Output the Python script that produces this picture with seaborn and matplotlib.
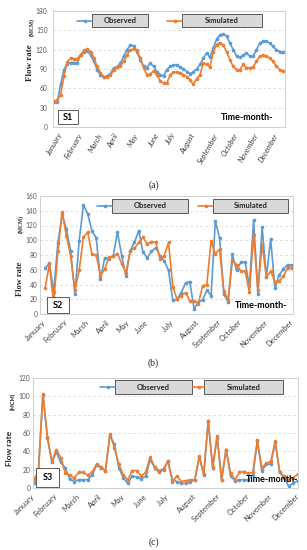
import numpy as np
import pandas as pd
import seaborn as sns
import matplotlib.pyplot as plt
from matplotlib.patches import Rectangle
from matplotlib.lines import Line2D

months = ["January", "February", "March", "April", "May", "June", "July",
          "August", "September", "October", "November", "December"]

# S1 (a)
s1_obs = [39, 39, 66, 89, 98, 100, 100, 100, 112, 117, 118, 112, 102, 89, 81, 77, 79, 83, 92, 93,
          99, 110, 120, 127, 126, 117, 104, 94, 92, 99, 94, 86, 81, 79, 89, 94, 96, 96, 93, 90,
          86, 83, 85, 90, 97, 107, 115, 108, 123, 136, 143, 144, 141, 130, 120, 110, 108, 111, 115, 110,
          110, 120, 130, 133, 133, 130, 125, 120, 117, 116]
s1_sim = [40, 42, 50, 79, 101, 107, 106, 106, 112, 119, 121, 117, 107, 94, 84, 78, 77, 81, 88, 93,
          94, 102, 112, 120, 121, 119, 107, 92, 81, 82, 87, 81, 72, 68, 68, 81, 85, 85, 84, 81,
          78, 73, 66, 75, 81, 99, 97, 93, 117, 128, 131, 127, 117, 104, 94, 89, 89, 97, 92, 92,
          93, 102, 110, 111, 110, 107, 102, 94, 89, 87]
s1_ticks = [2, 8, 14, 19, 25, 31, 36, 42, 49, 55, 61, 67]

# S2 (b)
s2_obs = [62, 69, 30, 96, 135, 115, 86, 27, 99, 148, 136, 113, 103, 47, 76, 75, 79, 111, 79, 51,
          86, 97, 113, 84, 76, 85, 90, 79, 72, 59, 19, 20, 29, 42, 44, 7, 16, 19, 32, 25,
          126, 103, 27, 16, 81, 59, 70, 70, 38, 127, 27, 118, 50, 102, 35, 53, 61, 67, 66]
s2_sim = [35, 68, 14, 85, 138, 106, 78, 32, 59, 104, 111, 81, 80, 52, 61, 77, 78, 82, 68, 56,
          86, 89, 97, 104, 95, 98, 97, 75, 79, 97, 37, 20, 25, 29, 18, 18, 14, 38, 40, 99,
          81, 88, 31, 19, 72, 67, 58, 58, 30, 107, 33, 95, 50, 58, 44, 45, 51, 63, 63]
s2_ticks = [0, 5, 10, 15, 19.5, 24, 30, 36, 41, 46, 52, 58]

# S3 (c)
s3_obs = [6, 19, 102, 55, 28, 39, 28, 22, 10, 7, 9, 9, 9, 14, 25, 22, 19, 57, 48, 22,
          11, 5, 13, 12, 10, 13, 31, 22, 17, 20, 29, 9, 7, 5, 5, 7, 9, 34, 14, 73,
          22, 55, 9, 42, 13, 8, 9, 9, 9, 14, 51, 19, 26, 26, 50, 17, 11, 2, 5, 8]
s3_sim = [9, 19, 103, 56, 29, 42, 33, 16, 14, 11, 17, 17, 14, 17, 26, 23, 19, 59, 44, 26,
          14, 9, 19, 19, 13, 17, 34, 23, 19, 21, 29, 7, 13, 7, 8, 9, 9, 35, 15, 73,
          23, 57, 9, 42, 16, 9, 17, 18, 16, 17, 52, 22, 27, 29, 51, 17, 13, 9, 11, 15]
s3_ticks = [0, 5, 10, 15, 20, 25, 30, 36, 41.5, 48, 53, 59]

BLUE = "#5b9bd5"
ORANGE = "#ed7d31"

sns.set_style("white")
plt.rcParams["font.family"] = ["Lato", "DejaVu Sans"]

W, H = 307, 550
fig = plt.figure(figsize=(W / 100, H / 100), dpi=100)


def fx(x):
    return x / W


def fy(y):
    return 1 - y / H


panels = [
    dict(name="S1", cap="(a)", obs=s1_obs, sim=s1_sim, ticks=s1_ticks, ymax=180, step=30,
         rect=(53, 11, 285, 127), xlim=(-0.3, 69.6), rot=60, italic=True, ypad=4,
         leg=(77, 92, 148, 167, 182, 262, 14, 27), sbox=(58, 110, 78, 124), tm=(273, 118),
         ylab=(30, 63, 32, 27.5, "serif", 6.5), capy=185),
    dict(name="S2", cap="(b)", obs=s2_obs, sim=s2_sim, ticks=s2_ticks, ymax=160, step=20,
         rect=(40, 196, 293, 314), xlim=(-1.2, 58.25), rot=45, italic=False, ypad=2,
         leg=(97, 112, 188, 198, 213, 288, 199, 213), sbox=(47, 297, 69, 313), tm=(287, 306),
         ylab=(20, 279, 21, 224, "serif", 6), capy=363),
    dict(name="S3", cap="(c)", obs=s3_obs, sim=s3_sim, ticks=s3_ticks, ymax=120, step=20,
         rect=(33, 378, 298, 488), xlim=(-0.22, 59.1), rot=45, italic=False, ypad=2,
         leg=(100, 115, 192, 193, 204, 283, 380, 394), sbox=(36, 468, 59, 487), tm=(298, 479),
         ylab=(10, 448, 13, 401, "sans", 6), capy=542),
]

for p in panels:
    l, t, r, b = p["rect"]
    ax = fig.add_axes([fx(l), fy(b), (r - l) / W, (b - t) / H])
    n = len(p["obs"])
    df = pd.DataFrame({"t": np.arange(n), "Observed": p["obs"], "Simulated": p["sim"]})
    df = df.melt(id_vars="t", var_name="series", value_name="flow")
    sns.lineplot(data=df, x="t", y="flow", hue="series", palette=[BLUE, ORANGE],
                 marker="o", markersize=2.6, markeredgewidth=0, linewidth=1.2,
                 legend=False, ax=ax)
    ax.set_ylim(0, p["ymax"])
    ax.set_xlim(*p["xlim"])
    ax.set_yticks(np.arange(0, p["ymax"] + 1, p["step"]))
    ax.yaxis.grid(True, linestyle=(0, (3, 3)), color="#d9d9d9", linewidth=0.6)
    ax.set_xticks(p["ticks"])
    ax.set_xticklabels(months, rotation=p["rot"], ha="right", va="center",
                       rotation_mode="anchor", fontsize=5.4, color="#404040",
                       style="italic" if p["italic"] else "normal")
    ax.tick_params(axis="x", length=0, pad=5)
    ax.tick_params(axis="y", length=0, pad=p["ypad"], labelsize=4.8, labelcolor="#595959")
    ax.set_xlabel("")
    ax.set_ylabel("")
    for s in ax.spines.values():
        s.set_color("#d0d0d0")
        s.set_linewidth(0.7)

    # legend boxes
    x1, x2, bx2, x3, x4, bx4, by1, by2 = p["leg"]
    ym = (by1 + by2) / 2
    for (a, c, e, col, lab) in [(x1, x2, bx2, BLUE, "Observed"), (x3, x4, bx4, ORANGE, "Simulated")]:
        fig.add_artist(Line2D([fx(a), fx(c)], [fy(ym)] * 2, color=col, lw=1.2))
        fig.add_artist(Line2D([fx((a + c) / 2)], [fy(ym)], color=col, marker="o",
                              markersize=2.6, markeredgewidth=0))
        fig.add_artist(Rectangle((fx(c), fy(by2)), (e - c) / W, (by2 - by1) / H,
                                 transform=fig.transFigure, facecolor="#d9d9d9",
                                 edgecolor="#404040", linewidth=0.6))
        fig.text(fx((c + e) / 2), fy(ym), lab, ha="center", va="center",
                 fontsize=5.5, fontweight="bold", color="#262626")

    # station box
    sx1, sy1, sx2, sy2 = p["sbox"]
    fig.add_artist(Rectangle((fx(sx1), fy(sy2)), (sx2 - sx1) / W, (sy2 - sy1) / H,
                             transform=fig.transFigure, facecolor="white",
                             edgecolor="#404040", linewidth=0.6))
    fig.text(fx((sx1 + sx2) / 2), fy((sy1 + sy2) / 2), p["name"], ha="center", va="center",
             fontsize=6.5, fontweight="bold", color="black")

    fig.text(fx(p["tm"][0]), fy(p["tm"][1]), "Time-month-", ha="right", va="center",
             fontsize=6.5, fontweight="bold", color="black")

    fxl, fyl, mxl, myl, fam, fs = p["ylab"]
    lab_fam = ["Liberation Serif"] if fam == "serif" else ["Lato", "DejaVu Sans"]
    fig.text(fx(fxl), fy(fyl), "Flow rate", rotation=90, ha="center", va="center",
             fontsize=fs, fontweight="bold", family=lab_fam)
    fig.text(fx(mxl), fy(myl), "(MCM)", rotation=90, ha="center", va="center",
             fontsize=4, fontweight="bold", family=lab_fam)

    fig.text(0.5, fy(p["capy"]), p["cap"], ha="center", va="center", fontsize=7,
             family=["Liberation Serif"])

fig.savefig("out.png", dpi=100)
